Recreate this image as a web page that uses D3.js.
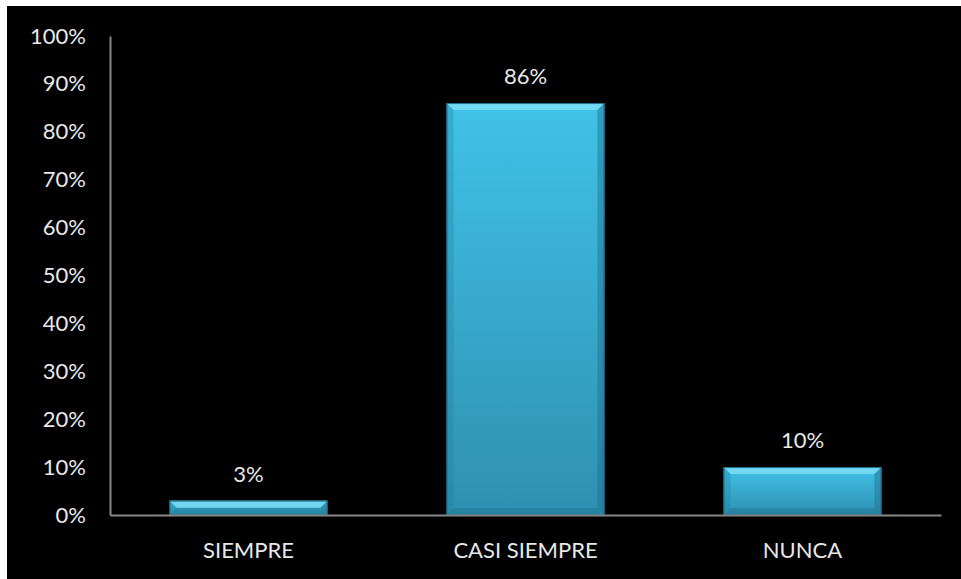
<!DOCTYPE html>
<html>
<head>
<meta charset="utf-8">
<script src="https://cdn.jsdelivr.net/npm/d3@7"></script>
<style>
  html, body { margin: 0; padding: 0; background: #ffffff; }
  svg { display: block; }
</style>
</head>
<body>
<svg id="chart" width="961" height="579"></svg>
<script>
// Survey answers and their share of responses
const categories = ["SIEMPRE", "CASI SIEMPRE", "NUNCA"];
const values = [3, 86, 10];
const tickValues = [0, 10, 20, 30, 40, 50, 60, 70, 80, 90, 100];

const svg = d3.select("#chart");
const W = 961, H = 579;
const margin = { left: 110, right: 20, top: 36, bottom: 64 };
const fontFamily = "Lato, 'Open Sans', sans-serif";

// black chart area with a thin white edge on the top and left
svg.append("rect").attr("x", 7).attr("y", 6).attr("width", W - 7).attr("height", H - 6).attr("fill", "#000");

const x = d3.scaleBand()
  .domain(categories)
  .range([margin.left, W - margin.right])
  .paddingInner(0.43)
  .paddingOuter(0.215);

const y = d3.scaleLinear()
  .domain([0, 100])
  .range([H - margin.bottom, margin.top]);

// bar gradient and bevel colours
const defs = svg.append("defs");
const grad = defs.append("linearGradient").attr("id", "barGrad")
  .attr("x1", 0).attr("y1", 0).attr("x2", 0).attr("y2", 1);
grad.append("stop").attr("offset", "0%").attr("stop-color", "#40c2e8");
grad.append("stop").attr("offset", "100%").attr("stop-color", "#2f90b0");

const bars = svg.append("g").selectAll("g")
  .data(categories.map((c, i) => ({ c, v: values[i] })))
  .join("g");

const bevel = 7;
bars.each(function (d) {
  const g = d3.select(this);
  const x0 = x(d.c), x1 = x0 + x.bandwidth();
  const y0 = y(d.v), y1 = y(0);
  const b = Math.min(bevel, (y1 - y0) / 2);
  g.append("rect")
    .attr("x", x0).attr("y", y0)
    .attr("width", x1 - x0).attr("height", y1 - y0)
    .attr("fill", "url(#barGrad)");
  // top bevel (bright)
  g.append("path")
    .attr("d", `M${x0},${y0}L${x1},${y0}L${x1 - b},${y0 + b}L${x0 + b},${y0 + b}Z`)
    .attr("fill", "#86e0f6").attr("opacity", 0.75);
  // left bevel
  g.append("path")
    .attr("d", `M${x0},${y0}L${x0 + b},${y0 + b}L${x0 + b},${y1 - b}L${x0},${y1}Z`)
    .attr("fill", "#1f7f9e").attr("opacity", 0.3);
  // right bevel
  g.append("path")
    .attr("d", `M${x1},${y0}L${x1 - b},${y0 + b}L${x1 - b},${y1 - b}L${x1},${y1}Z`)
    .attr("fill", "#1a6f8c").attr("opacity", 0.45);
  // bottom bevel
  g.append("path")
    .attr("d", `M${x0},${y1}L${x0 + b},${y1 - b}L${x1 - b},${y1 - b}L${x1},${y1}Z`)
    .attr("fill", "#1a6f8c").attr("opacity", 0.4);
  // outline
  g.append("rect")
    .attr("x", x0 + 0.5).attr("y", y0 + 0.5)
    .attr("width", x1 - x0 - 1).attr("height", y1 - y0 - 1)
    .attr("fill", "none").attr("stroke", "#1d6f8a").attr("stroke-width", 1);
});

// value labels
svg.append("g").selectAll("text")
  .data(categories.map((c, i) => ({ c, v: values[i] })))
  .join("text")
  .attr("x", d => x(d.c) + x.bandwidth() / 2)
  .attr("y", d => y(d.v) - 19)
  .attr("text-anchor", "middle")
  .attr("fill", "#e8e8e8")
  .attr("font-family", fontFamily)
  .attr("font-size", 22)
  .text(d => d.v + "%");

// y axis
const yAxis = d3.axisLeft(y).tickValues(tickValues).tickSize(0).tickPadding(24)
  .tickFormat(d => d + "%");
const gy = svg.append("g").attr("transform", `translate(${margin.left},0)`).call(yAxis);
gy.select(".domain").attr("stroke", "#878787").attr("stroke-width", 2);
gy.selectAll("text").attr("fill", "#e8e8e8").attr("font-family", fontFamily).attr("font-size", 22);

// x axis
const xAxis = d3.axisBottom(x).tickSize(0).tickPadding(27);
const gx = svg.append("g").attr("transform", `translate(0,${y(0)})`).call(xAxis);
gx.select(".domain").attr("stroke", "#878787").attr("stroke-width", 2);
gx.selectAll("text").attr("fill", "#e8e8e8").attr("font-family", fontFamily).attr("font-size", 22);
</script>
</body>
</html>
